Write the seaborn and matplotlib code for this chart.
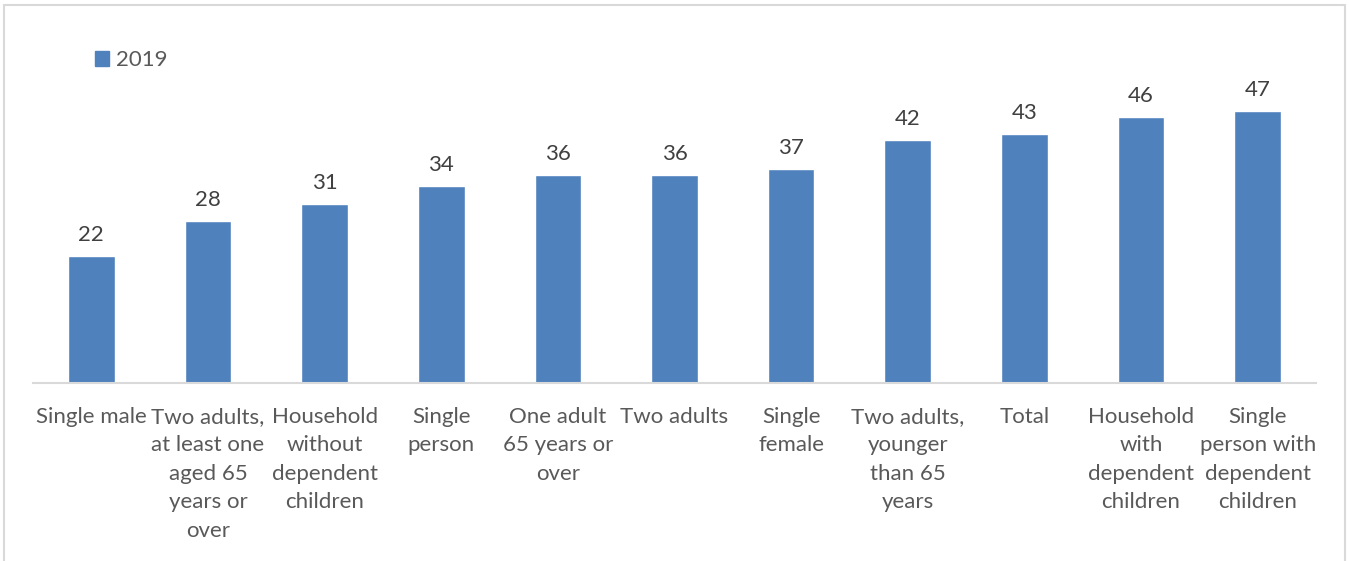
import matplotlib
matplotlib.use("Agg")
import matplotlib.pyplot as plt
from matplotlib.lines import Line2D
from matplotlib.patches import Patch
import seaborn as sns
import pandas as pd

categories = [
    "Single male",
    "Two adults,\nat least one\naged 65\nyears or\nover",
    "Household\nwithout\ndependent\nchildren",
    "Single\nperson",
    "One adult\n65 years or\nover",
    "Two adults",
    "Single\nfemale",
    "Two adults,\nyounger\nthan 65\nyears",
    "Total",
    "Household\nwith\ndependent\nchildren",
    "Single\nperson with\ndependent\nchildren",
]
values_2019 = [22, 28, 31, 34, 36, 36, 37, 42, 43, 46, 47]
series_name = "2019"

df = pd.DataFrame({"category": categories, "value": values_2019})

sns.set_theme(style="white")
plt.rcParams["font.family"] = ["Lato", "DejaVu Sans"]

BAR = "#4F81BD"
W, H = 1349, 561
fig = plt.figure(figsize=(W / 100, H / 100), dpi=100)
ax = fig.add_axes([33 / W, 1 - 383 / H, (1316 - 33) / W, (383 - 79) / H])

sns.barplot(data=df, x="category", y="value", color=BAR, saturation=1,
            width=0.40, ax=ax, order=categories)

ax.set_ylim(0, 52.6)
ax.set_xlim(-0.5, len(categories) - 0.5)
ax.set_xlabel("")
ax.set_ylabel("")
ax.set_yticks([])
for s in ["top", "right", "left"]:
    ax.spines[s].set_visible(False)
ax.spines["bottom"].set_color("#D9D9D9")
ax.spines["bottom"].set_linewidth(1.5)
ax.tick_params(axis="x", length=0, pad=17, labelsize=16, labelcolor="#595959")
for t in ax.get_xticklabels():
    t.set_linespacing(1.53)
    t.set_verticalalignment("top")

ax.bar_label(ax.containers[0], labels=[str(v) for v in values_2019],
             padding=8, fontsize=16, color="#404040")

handle = Patch(facecolor=BAR, edgecolor=BAR)
leg = ax.legend([handle], [series_name], loc="upper left",
                bbox_to_anchor=(95 / W, 1 - 50 / H), bbox_transform=fig.transFigure,
                frameon=False, fontsize=16, handlelength=0.65, handleheight=0.65,
                handletextpad=0.3, borderaxespad=0, borderpad=0)
for txt in leg.get_texts():
    txt.set_color("#595959")

# light frame around the chart area
frame_c = "#D9D9D9"
x0, x1, y0 = 3.5 / W, 1344.5 / W, 1 - 4.5 / H
fig.add_artist(Line2D([x0, x0], [0, y0], color=frame_c, lw=1.5, transform=fig.transFigure))
fig.add_artist(Line2D([x0, x1], [y0, y0], color=frame_c, lw=1.5, transform=fig.transFigure))
fig.add_artist(Line2D([x1, x1], [0, y0], color=frame_c, lw=1.5, transform=fig.transFigure))

fig.savefig("out.png", dpi=100)
